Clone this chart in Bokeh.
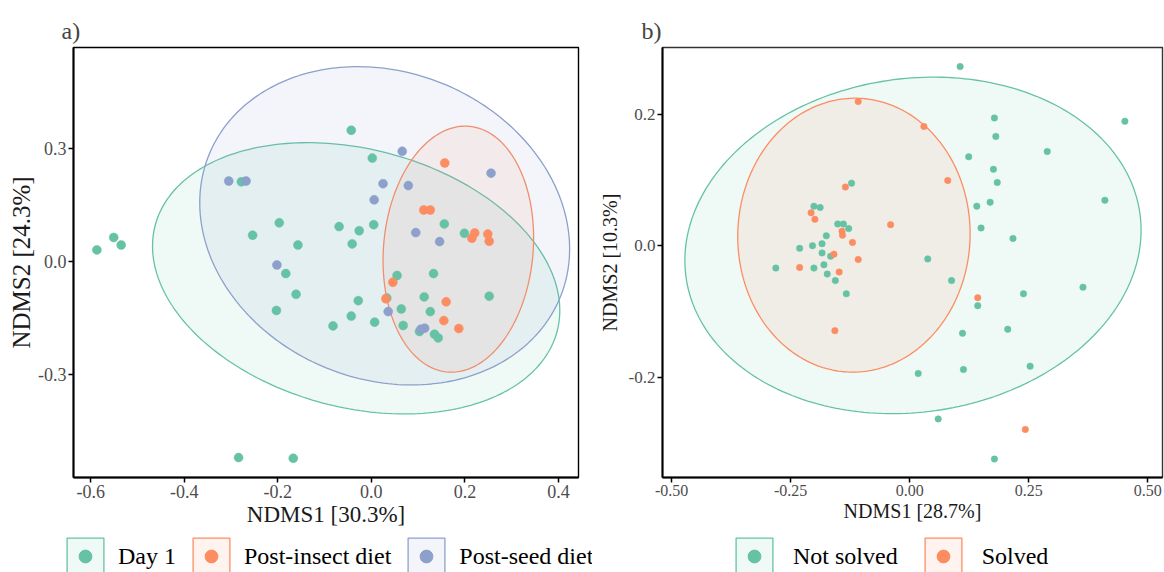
import numpy as np
from bokeh.plotting import figure
from bokeh.layouts import row, column
from bokeh.models import FixedTicker, Legend, LegendItem, Range1d, NumeralTickFormatter
from bokeh.embed import file_html
from bokeh.resources import INLINE

# ---------------- Panel a data ----------------
day1_x = [-0.043, 0.002, -0.587, -0.551, -0.535, -0.278, -0.197, -0.254, -0.157, -0.069,
          -0.026, -0.041, 0.005, 0.156, 0.199, -0.183, -0.161, -0.203, -0.028, -0.043,
          -0.082, 0.007, 0.033, 0.055, 0.133, 0.113, 0.064, 0.126, 0.068, 0.103,
          0.135, 0.143, 0.252, -0.284, -0.167]
day1_y = [0.349, 0.275, 0.031, 0.064, 0.044, 0.212, 0.103, 0.070, 0.044, 0.093,
          0.082, 0.047, 0.098, 0.100, 0.075, -0.032, -0.087, -0.130, -0.104, -0.145,
          -0.171, -0.161, -0.097, -0.037, -0.032, -0.094, -0.126, -0.133, -0.170, -0.186,
          -0.193, -0.203, -0.092, -0.521, -0.523]
insect_x = [0.157, 0.112, 0.126, 0.221, 0.215, 0.249, 0.252, 0.046, 0.160, 0.155, 0.187, 0.031]
insect_y = [0.262, 0.137, 0.137, 0.076, 0.062, 0.073, 0.054, -0.055, -0.107, -0.157, -0.178, -0.099]
seed_x = [0.066, 0.256, -0.305, -0.268, 0.025, 0.079, 0.006, 0.095, 0.146, -0.202, 0.036, 0.106, 0.114]
seed_y = [0.293, 0.235, 0.214, 0.214, 0.207, 0.202, 0.164, 0.077, 0.053, -0.009, -0.133, -0.180, -0.177]

groups_a = ["Day 1", "Post-insect diet", "Post-seed diet"]
# ellipse parameters: centre, half-extent along x / y, correlation
ell_a_cx = [-0.0325, 0.186, 0.0285]
ell_a_cy = [-0.0445, 0.033, 0.095]
ell_a_rx = [0.4355, 0.161, 0.3955]
ell_a_ry = [0.3605, 0.327, 0.423]
ell_a_rho = [-0.237, 0.092, -0.145]

# ---------------- Panel b data ----------------
notsolved_x = [0.106, 0.178, 0.181, 0.452, 0.124, 0.289, 0.176, 0.184, 0.410, 0.141,
               0.169, 0.150, 0.217, 0.038, -0.122, -0.201, -0.188, -0.151, -0.139, -0.128,
               -0.175, -0.231, -0.204, -0.184, -0.184, -0.166, -0.180, -0.201, -0.281, -0.173,
               -0.156, -0.133, 0.088, 0.143, 0.239, 0.364, 0.111, 0.206, 0.018, 0.113,
               0.253, 0.060, 0.178]
notsolved_y = [0.272, 0.194, 0.166, 0.189, 0.135, 0.143, 0.116, 0.096, 0.069, 0.060,
               0.066, 0.027, 0.011, -0.020, 0.095, 0.060, 0.058, 0.033, 0.033, 0.026,
               0.015, -0.004, 0.000, 0.003, -0.011, -0.016, -0.029, -0.034, -0.034, -0.043,
               -0.053, -0.073, -0.053, -0.091, -0.073, -0.063, -0.133, -0.127, -0.194, -0.188,
               -0.183, -0.263, -0.324]
solved_x = [-0.108, 0.030, 0.080, -0.135, -0.207, -0.199, -0.040, -0.142, -0.141, -0.120,
            -0.159, -0.108, -0.231, -0.148, -0.157, 0.143, 0.243]
solved_y = [0.219, 0.181, 0.099, 0.089, 0.050, 0.040, 0.032, 0.022, 0.016, 0.005,
            -0.013, -0.021, -0.033, -0.040, -0.129, -0.079, -0.279]

groups_b = ["Not solved", "Solved"]
ell_b_cx = [0.007, -0.117]
ell_b_cy = [0.0005, 0.016]
ell_b_rx = [0.479, 0.244]
ell_b_ry = [0.2555, 0.208]
ell_b_rho = [0.09, 0.01]

xticks_a = [-0.6, -0.4, -0.2, 0.0, 0.2, 0.4]
yticks_a = [-0.3, 0.0, 0.3]
xticks_b = [-0.5, -0.25, 0.0, 0.25, 0.5]
yticks_b = [-0.2, 0.0, 0.2]

GREEN, ORANGE, BLUE = "#66C2A5", "#FC8D62", "#8DA0CB"
FONT = "Liberation Serif"
NAN = float("nan")


def ellipse_pts(cx, cy, rx, ry, rho, n=240):
    t = np.linspace(0, 2 * np.pi, n)
    x = cx + rx * np.cos(t)
    y = cy + ry * (rho * np.cos(t) + np.sqrt(1 - rho ** 2) * np.sin(t))
    return x, y


def style_axes(p, xt, yt, xfmt, yfmt, xtick_fs, ytick_fs, xlab_fs, ylab_fs, ylab_standoff):
    p.xaxis.ticker = FixedTicker(ticks=xt)
    p.yaxis.ticker = FixedTicker(ticks=yt)
    p.xaxis.formatter = NumeralTickFormatter(format=xfmt)
    p.yaxis.formatter = NumeralTickFormatter(format=yfmt)
    for ax in (p.xaxis[0], p.yaxis[0]):
        ax.axis_line_width = 2
        ax.axis_line_color = "black"
        ax.major_tick_line_color = "black"
        ax.major_tick_line_width = 1.5
        ax.major_tick_out = 5
        ax.major_tick_in = 0
        ax.minor_tick_line_color = None
        ax.major_label_text_font = FONT
        ax.major_label_text_color = "#4D4D4D"
        ax.axis_label_text_font = FONT
        ax.axis_label_text_font_style = "normal"
        ax.axis_label_text_color = "#1A1A1A"
    p.xaxis.major_label_text_font_size = xtick_fs
    p.yaxis.major_label_text_font_size = ytick_fs
    p.xaxis.axis_label_text_font_size = xlab_fs
    p.yaxis.axis_label_text_font_size = ylab_fs
    p.xaxis.major_label_standoff = 2
    p.yaxis.major_label_standoff = 2
    p.xaxis.axis_label_standoff = 1
    p.yaxis.axis_label_standoff = ylab_standoff
    p.xgrid.grid_line_color = None
    p.ygrid.grid_line_color = None


def make_panel(width, height, xr, yr, borders, title, title_offset, outline_color):
    bl, br, bt, bb = borders
    p = figure(width=width, height=height, x_range=Range1d(*xr), y_range=Range1d(*yr),
               output_backend="svg", toolbar_location=None, title=title,
               min_border_left=bl, min_border_right=br, min_border_top=bt, min_border_bottom=bb)
    p.title.text_font = FONT
    p.title.text_font_size = "24px"
    p.title.text_font_style = "normal"
    p.title.align = "left"
    p.title.offset = title_offset
    p.title.standoff = 8
    p.outline_line_color = outline_color
    p.outline_line_width = 1.4
    p.background_fill_color = "white"
    p.border_fill_color = "white"
    return p


def legend_fig(width, colours, labels, box_loc, dot_loc, standoff, spacing):
    lf = figure(width=width, height=40, x_range=Range1d(0, 1), y_range=Range1d(0, 1),
                output_backend="svg", toolbar_location=None, min_border=0,
                x_axis_type=None, y_axis_type=None)
    lf.outline_line_color = None
    lf.background_fill_color = "white"
    lf.border_fill_color = "white"
    box_items, dot_items = [], []
    for lab, c in zip(labels, colours):
        # legend proxies (NaN -> never drawn in the frame)
        rb = lf.patch(x=[NAN, NAN, NAN], y=[NAN, NAN, NAN], fill_color=c, fill_alpha=0.1,
                      line_color=c, line_width=1.3)
        rd = lf.scatter(x=[NAN], y=[NAN], size=9, fill_color=c, line_color=c)
        box_items.append(LegendItem(label=lab, renderers=[rb]))
        dot_items.append(LegendItem(label=lab, renderers=[rd]))
    common = dict(orientation="horizontal", glyph_width=46, label_standoff=standoff, spacing=spacing,
                  padding=0, margin=0, background_fill_alpha=0, border_line_alpha=0,
                  label_text_font=FONT, label_text_font_size="24px")
    lg1 = Legend(items=box_items, location=box_loc, glyph_height=46, label_text_color="black", **common)
    lg2 = Legend(items=dot_items, location=dot_loc, glyph_height=32, label_text_alpha=0, **common)
    lf.add_layout(lg1, "center")
    lf.add_layout(lg2, "center")
    return lf


# ---------------- Panel a ----------------
pa = make_panel(592, 532, (-0.637, 0.443), (-0.574, 0.569), (73, 14, 45, 54), "a)", -12, "black")
style_axes(pa, xticks_a, yticks_a, "0.0", "0.0", "18px", "18px", "23px", "25px", 0)
pa.xaxis.axis_label = "NDMS1 [30.3%]"
pa.yaxis.axis_label = "NDMS2 [24.3%]"

cols_a = [GREEN, ORANGE, BLUE]
for i in range(3):
    ex, ey = ellipse_pts(ell_a_cx[i], ell_a_cy[i], ell_a_rx[i], ell_a_ry[i], ell_a_rho[i])
    pa.patch(ex, ey, fill_color=cols_a[i], fill_alpha=0.1, line_color=cols_a[i], line_width=1.3)
for (xs, ys), c in zip([(day1_x, day1_y), (insect_x, insect_y), (seed_x, seed_y)], cols_a):
    pa.scatter(xs, ys, size=9, fill_color=c, line_color=c, line_width=0.5)

la = legend_fig(592, cols_a, groups_a, (62, -7), (62, 0), 10, 12)

# ---------------- Panel b ----------------
pb = make_panel(572, 532, (-0.519, 0.531), (-0.352, 0.301), (70, 2, 47, 55), "b)", -21, "#333333")
style_axes(pb, xticks_b, yticks_b, "0.00", "0.0", "16px", "17px", "20px", "20px", 5)
pb.xaxis.axis_label = "NDMS1 [28.7%]"
pb.yaxis.axis_label = "NDMS2 [10.3%]"

cols_b = [GREEN, ORANGE]
for i in range(2):
    ex, ey = ellipse_pts(ell_b_cx[i], ell_b_cy[i], ell_b_rx[i], ell_b_ry[i], ell_b_rho[i])
    pb.patch(ex, ey, fill_color=cols_b[i], fill_alpha=0.1, line_color=cols_b[i], line_width=1.3)
for (xs, ys), c in zip([(notsolved_x, notsolved_y), (solved_x, solved_y)], cols_b):
    pb.scatter(xs, ys, size=6.5, fill_color=c, line_color=c, line_width=0.5)

lb = legend_fig(572, cols_b, groups_b, (139, -7), (139, 0), 16, 22)

layout = column(row(pa, pb), row(la, lb))
open("out.html", "w").write(file_html(layout, INLINE))
